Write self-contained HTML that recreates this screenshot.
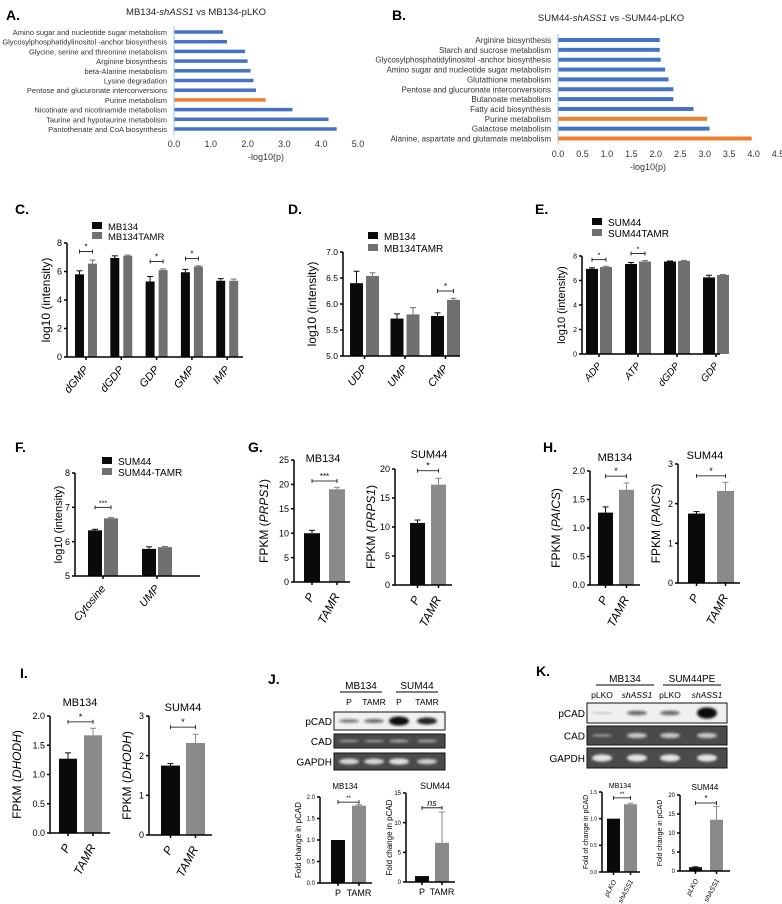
<!DOCTYPE html>
<html><head><meta charset="utf-8"><style>
html,body{margin:0;padding:0;background:#fff;}
svg{display:block;font-family:"Liberation Sans",Arial,sans-serif;}
</style></head><body>
<svg id="fig" width="782" height="904" viewBox="0 0 782 904" xmlns="http://www.w3.org/2000/svg">
<defs><filter id="bl" x="-20%" y="-50%" width="140%" height="200%"><feGaussianBlur stdDeviation="1.2"/></filter></defs>
</svg>
<script>
// ---- Panel A data
const aCats = ["Amino sugar and nucleotide sugar metabolism","Glycosylphosphatidylinositol -anchor biosynthesis","Glycine, serine and threonine metabolism","Arginine biosynthesis","beta-Alanine metabolism","Lysine degradation","Pentose and glucuronate interconversions","Purine metabolism","Nicotinate and nicotinamide metabolism","Taurine and hypotaurine metabolism","Pantothenate and CoA biosynthesis"];
const aVals = [1.33,1.44,1.93,2.0,2.08,2.16,2.23,2.49,3.22,4.2,4.42];
const aHighlight = ["Purine metabolism"];
const aTicks = ["0.0","1.0","2.0","3.0","4.0","5.0"];
// ---- Panel B data
const bCats = ["Arginine biosynthesis","Starch and sucrose metabolism","Glycosylphosphatidylinositol -anchor biosynthesis","Amino sugar and nucleotide sugar metabolism","Glutathione metabolism","Pentose and glucuronate interconversions","Butanoate metabolism","Fatty acid biosynthesis","Purine metabolism","Galactose metabolism","Alanine, aspartate and glutamate metabolism"];
const bVals = [2.08,2.08,2.1,2.19,2.26,2.36,2.36,2.77,3.05,3.1,3.96];
const bHighlight = ["Purine metabolism","Alanine, aspartate and glutamate metabolism"];
const bTicks = ["0.0","0.5","1.0","1.5","2.0","2.5","3.0","3.5","4.0","4.5"];
// ---- Panel C
const cCats = ["dGMP","dGDP","GDP","GMP","IMP"];
const cMB = [5.8,6.95,5.3,5.95,5.35];
const cMBErr = [0.25,0.15,0.35,0.2,0.15];
const cTAMR = [6.55,7.1,6.1,6.35,5.35];
const cTAMRErr = [0.25,0.05,0.08,0.05,0.12];
const cTicks = [0,2,4,6,8];
const cSig = [[0,7.4,"*"],[2,6.7,"*"],[3,6.9,"*"]];
// ---- Panel D
const dCats = ["UDP","UMP","CMP"];
const dMB = [6.4,5.72,5.77];
const dMBErr = [0.23,0.09,0.06];
const dTAMR = [6.54,5.8,6.08];
const dTAMRErr = [0.06,0.13,0.03];
const dTicks = [5.0,5.5,6.0,6.5,7.0];
const dSig = [[2,6.25,"*"]];
// ---- Panel E
const eCats = ["ADP","ATP","dGDP","GDP"];
const eS = [6.95,7.35,7.55,6.25];
const eSErr = [0.08,0.12,0.04,0.18];
const eT = [7.1,7.55,7.6,6.45];
const eTErr = [0.06,0.08,0.04,0.03];
const eTicks = [0,2,4,6,8];
const eSig = [[0,7.7,"*"],[1,8.2,"*"]];
// ---- Panel F
const fCats = ["Cytosine","UMP"];
const fS = [6.33,5.79];
const fSErr = [0.03,0.06];
const fT = [6.68,5.84];
const fTErr = [0.02,0.02];
const fTicks = [5,6,7,8];
const fSig = [[0,7.0,"***"]];
// ---- Two-bar panels (P vs TAMR etc.)
const ptCats = ["P","TAMR"];
const shCats = ["pLKO","shASS1"];
const g1Vals = [10,19]; const g1Errs = [0.6,0.4]; const g1Ticks = [0,5,10,15,20,25];
const g2Vals = [10.7,17.3]; const g2Errs = [0.5,1.1]; const g2Ticks = [0,5,10,15,20];
const h1Vals = [1.27,1.67]; const h1Errs = [0.1,0.12]; const h1Ticks = ["0.0","0.5","1.0","1.5","2.0"];
const h2Vals = [1.75,2.32]; const h2Errs = [0.05,0.22]; const h2Ticks = [0,1,2,3];
const i1Vals = [1.27,1.67]; const i1Errs = [0.1,0.12]; const i1Ticks = ["0.0","0.5","1.0","1.5","2.0"];
const i2Vals = [1.75,2.32]; const i2Errs = [0.05,0.22]; const i2Ticks = [0,1,2,3];
const j1Vals = [1.0,1.8]; const j1Errs = [0,0.02]; const j1Ticks = ["0.0","0.5","1.0","1.5","2.0"];
const j2Vals = [1.0,6.6]; const j2Errs = [0,5.2]; const j2Ticks = [0,5,10,15];
const k1Vals = [1.0,1.27]; const k1Errs = [0,0.02]; const k1Ticks = ["0.0","0.5","1.0","1.5"];
const k2Vals = [1.0,13.5]; const k2Errs = [0.1,3.5]; const k2Ticks = [0,5,10,15,20];

const svg = document.getElementById('fig');
const NS = 'http://www.w3.org/2000/svg';
function mk(tag, attrs, name, parent) {
  const e = document.createElementNS(NS, tag);
  for (const k in attrs) e.setAttribute(k, attrs[k]);
  
  
  (parent || svg).appendChild(e);
  return e;
}
function txt(x, y, s, size, name, extra, parent) {
  const a = Object.assign({x: x, y: y, 'font-size': size, fill: '#000'}, extra || {});
  const t = mk('text', a, name, parent);
  t.textContent = s;
  return t;
}
function line(x1, y1, x2, y2, w, name, col) {
  return mk('line', {x1: x1, y1: y1, x2: x2, y2: y2, stroke: col || '#000', 'stroke-width': w}, name);
}

// ---- horizontal bar chart (A, B)
function hbar(o) {
  const xs = v => o.x0 + v * o.ppu;
  const g = mk('g', {}, o.name);
  txt(o.titleX, o.titleY, '', 9.5, 'chart-title', {'text-anchor': 'middle', fill: '#222'}, g).innerHTML = o.title;
  line(o.x0, o.rowY0 - 6, o.x0, o.rowY0 + (o.cats.length - 1) * o.rowH + 6, 1, 'y-axis-line', '#9dc3e6');
  o.cats.forEach((c, i) => {
    const y = o.rowY0 + i * o.rowH;
    txt(o.x0 - 7, y + 3, c, o.lfs, 'category-label', {'text-anchor': 'end', fill: '#333'}, g);
    const col = o.hl.indexOf(c) >= 0 ? '#ed7d31' : '#4472c4';
    mk('rect', {x: o.x0, y: y - o.bh / 2, width: xs(o.vals[i]) - o.x0, height: o.bh, fill: col}, 'bar-' + i, g);
  });
  o.ticks.forEach(t => {
    txt(xs(parseFloat(t)), o.tickY, t, 9, 'x-tick-label', {'text-anchor': 'middle', fill: '#333'}, g);
  });
  txt(o.x0 + (o.ticks.length - 1) * o.step * o.ppu / 2 + o.xlabOff, o.tickY + 13, '-log10(p)', 9, 'x-axis-title', {'text-anchor': 'middle', fill: '#333'}, g);
}
hbar({name: 'panel-a-chart', x0: 174, ppu: 36.8, step: 1, cats: aCats, vals: aVals, hl: aHighlight, ticks: aTicks, rowY0: 32, rowH: 9.7, bh: 3.5, tickY: 147, title: 'MB134-<tspan font-style="italic">shASS1</tspan> vs MB134-pLKO', titleX: 196, titleY: 15, xlabOff: 0, lfs: 7.5});
hbar({name: 'panel-b-chart', x0: 558, ppu: 48.9, step: 0.5, cats: bCats, vals: bVals, hl: bHighlight, ticks: bTicks, rowY0: 40, rowH: 9.85, bh: 4, tickY: 157, title: 'SUM44-<tspan font-style="italic">shASS1</tspan> vs -SUM44-pLKO', titleX: 611, titleY: 21, xlabOff: -20, lfs: 8});

// ---- vertical bar chart
function vbar(o) {
  const g = mk('g', {}, o.name);
  const y = v => o.yBot - (v - o.ymin) / (o.ymax - o.ymin) * (o.yBot - o.yTop);
  const lw = o.lw || 1.5;
  line(o.axisX, o.yTop, o.axisX, o.yBot, lw, 'y-axis-line');
  line(o.axisX, o.yBot, o.xEnd, o.yBot, lw, 'x-axis-line');
  o.ticks.forEach(t => {
    const v = parseFloat(t);
    line(o.axisX - 3, y(v), o.axisX, y(v), lw, 'y-tick');
    txt(o.axisX - 5, y(v) + o.tfs * 0.35, String(t), o.tfs, 'y-tick-label', {'text-anchor': 'end'}, g);
  });
  const yl = txt(0, 0, '', o.yfs, 'y-axis-title', {'text-anchor': 'middle', transform: 'translate(' + o.ylX + ',' + (o.yTop + o.yBot) / 2 + ') rotate(-90)'}, g);
  yl.innerHTML = o.ylabel;
  const centers = [];
  const rot = (o.rot === undefined) ? -50 : o.rot;
  o.cats.forEach((c, i) => {
    const cs = [];
    o.series.forEach((s, k) => {
      const x = o.start + i * o.pitch + k * o.off;
      const col = o.catColors ? o.catColors[i] : s.color;
      const v = s.vals[i], e = s.errs[i];
      mk('rect', {x: x, y: y(v), width: o.bw, height: o.yBot - y(v), fill: col}, 'bar-' + c + '-' + k, g);
      if (e > 0) {
        line(x + o.bw / 2, y(v), x + o.bw / 2, y(v + e), 1, 'error-bar', col);
        line(x + o.bw / 2 - 3, y(v + e), x + o.bw / 2 + 3, y(v + e), 1, 'error-cap', col);
      }
      cs.push(x + o.bw / 2);
    });
    centers.push(cs);
    const gc = (cs[0] + cs[cs.length - 1]) / 2;
    line(gc, o.yBot, gc, o.yBot + 3, lw, 'x-tick');
    if (rot === 0) {
      txt(gc, o.yBot + o.xfs + 4, c, o.xfs, 'x-tick-label', {'text-anchor': 'middle'}, g);
    } else {
      txt(0, 0, c, o.xfs, 'x-tick-label', {'text-anchor': 'end', 'font-style': 'italic', transform: 'translate(' + (gc + 3) + ',' + (o.yBot + o.xfs * 0.9 + 3) + ') rotate(' + rot + ')'}, g);
    }
  });
  (o.sig || []).forEach(sg => {
    let x1, x2;
    if (o.series.length > 1) { x1 = centers[sg[0]][0]; x2 = centers[sg[0]][o.series.length - 1]; }
    else { x1 = centers[0][0]; x2 = centers[1][0]; }
    const yy = y(sg[1]);
    line(x1, yy, x2, yy, 0.8, 'sig-bracket');
    line(x1, yy - 2, x1, yy + 2, 0.8, 'sig-bracket-end');
    line(x2, yy - 2, x2, yy + 2, 0.8, 'sig-bracket-end');
    txt((x1 + x2) / 2, yy - 2, sg[2], o.sigfs || 8, 'sig-label', {'text-anchor': 'middle', 'font-style': sg[2] === 'ns' ? 'italic' : 'normal'}, g);
  });
  if (o.title) txt(o.titleX, o.titleY, o.title, o.titfs, 'chart-title', {'text-anchor': 'middle'}, g);
  if (o.legend) o.legend.forEach((L, i) => {
    mk('rect', {x: o.legX, y: o.legY + i * o.legH - 8, width: 10, height: 7, fill: L[1]}, 'legend-swatch', g);
    txt(o.legX + 16, o.legY + i * o.legH, L[0], o.legfs, 'legend-entry', {}, g);
  });
}
const BLK = '#0a0a0a', GRY = '#707070', GR2 = '#8a8a8a';
const LOGY = 'log10 (intensity)';
vbar({name: 'panel-c-chart', cats: cCats, series: [{vals: cMB, errs: cMBErr, color: BLK}, {vals: cTAMR, errs: cTAMRErr, color: GRY}], ymin: 0, ymax: 8, ticks: cTicks, axisX: 67, yTop: 243, yBot: 357, xEnd: 243, start: 75, pitch: 35.3, off: 13, bw: 9, tfs: 9, yfs: 12, ylX: 50, ylabel: LOGY, xfs: 11, sig: cSig, legend: [['MB134', BLK], ['MB134TAMR', GRY]], legX: 92, legY: 230, legH: 10, legfs: 9.5});
vbar({name: 'panel-d-chart', cats: dCats, series: [{vals: dMB, errs: dMBErr, color: BLK}, {vals: dTAMR, errs: dTAMRErr, color: GRY}], ymin: 5, ymax: 7, ticks: ['5.0','5.5','6.0','6.5','7.0'], axisX: 343, yTop: 252, yBot: 356, xEnd: 460, start: 350, pitch: 40.5, off: 16, bw: 13, tfs: 8.5, yfs: 12, ylX: 316, ylabel: LOGY, xfs: 11, sig: dSig, legend: [['MB134', BLK], ['MB134TAMR', GRY]], legX: 368, legY: 240, legH: 12, legfs: 10});
vbar({name: 'panel-e-chart', cats: eCats, series: [{vals: eS, errs: eSErr, color: BLK}, {vals: eT, errs: eTErr, color: GRY}], ymin: 0, ymax: 8, ticks: eTicks, axisX: 582, yTop: 256, yBot: 354, xEnd: 720, start: 586, pitch: 39, off: 14, bw: 12, tfs: 7, yfs: 11, ylX: 565, ylabel: LOGY, xfs: 10, sig: eSig, sigfs: 7, legend: [['SUM44', BLK], ['SUM44TAMR', GRY]], legX: 592, legY: 226, legH: 11, legfs: 10});
vbar({name: 'panel-f-chart', cats: fCats, series: [{vals: fS, errs: fSErr, color: BLK}, {vals: fT, errs: fTErr, color: GRY}], ymin: 5, ymax: 8, ticks: fTicks, axisX: 75, yTop: 473, yBot: 576, xEnd: 200, start: 88, pitch: 54, off: 16, bw: 14, tfs: 9, yfs: 11, ylX: 62, ylabel: LOGY, xfs: 11, sig: fSig, sigfs: 7, legend: [['SUM44', BLK], ['SUM44-TAMR', GRY]], legX: 102, legY: 465, legH: 11, legfs: 10});
const PC = [BLK, GR2];
function two(name, vals, errs, ticks, cats, ax, yTop, yBot, ymax, start, pitch, bw, xEnd, ylabel, ylX, yfs, tfs, xfs, sig, title, tX, tY, titfs, sigfs, rot) {
  vbar({name: name, cats: cats, series: [{vals: vals, errs: errs, color: BLK}], catColors: PC, ymin: 0, ymax: ymax, ticks: ticks, axisX: ax, yTop: yTop, yBot: yBot, xEnd: xEnd, start: start, pitch: pitch, off: 0, bw: bw, tfs: tfs, yfs: yfs, ylX: ylX, ylabel: ylabel, xfs: xfs, sig: [sig], sigfs: sigfs, title: title, titleX: tX, titleY: tY, titfs: titfs, rot: (rot === undefined ? -62 : rot)});
}
const fp = g => 'FPKM (<tspan font-style="italic">' + g + '</tspan>)';
two('panel-g-mb134', g1Vals, g1Errs, g1Ticks, ptCats, 294, 460, 582, 25, 304, 25, 16, 350, fp('PRPS1'), 268, 12, 9, 12, [0, 20.7, '***'], 'MB134', 323, 462, 11, 8);
two('panel-g-sum44', g2Vals, g2Errs, g2Ticks, ptCats, 395, 469, 585, 20, 410, 21, 15, 452, fp('PRPS1'), 375, 12, 9, 12, [0, 19.7, '*'], 'SUM44', 429, 458, 11, 9);
two('panel-h-mb134', h1Vals, h1Errs, h1Ticks, ptCats, 590, 471, 585, 2, 598, 21, 15, 640, fp('PAICS'), 560, 12, 9, 12, [0, 1.91, '*'], 'MB134', 615, 461, 11, 9);
two('panel-h-sum44', h2Vals, h2Errs, h2Ticks, ptCats, 678, 464, 583, 3, 688, 29, 17, 740, fp('PAICS'), 660, 12, 9, 12, [0, 2.7, '*'], 'SUM44', 705, 459, 11, 9);
two('panel-i-mb134', i1Vals, i1Errs, i1Ticks, ptCats, 50, 716, 833, 2, 59, 25, 18, 110, fp('DHODH'), 21, 12, 9, 12, [0, 1.9, '*'], 'MB134', 80, 706, 11, 9);
two('panel-i-sum44', i2Vals, i2Errs, i2Ticks, ptCats, 149, 716, 835, 3, 161, 25, 19, 212, fp('DHODH'), 131, 12, 9, 12, [0, 2.72, '*'], 'SUM44', 183, 711, 11, 9);
two('panel-j-mb134', j1Vals, j1Errs, j1Ticks, ptCats, 320, 797, 883, 2, 331, 21, 14, 372, 'Fold change in pCAD', 301, 8, 6, 9, [0, 1.88, '**'], 'MB134', 345, 789, 8, 6, 0);
two('panel-j-sum44', j2Vals, j2Errs, j2Ticks, ptCats, 406, 793, 882, 15, 415, 20, 14, 455, 'Fold change in pCAD', 392, 8, 6, 9, [0, 12.5, 'ns'], 'SUM44', 435, 789, 9, 9, 0);
two('panel-k-mb134', k1Vals, k1Errs, k1Ticks, shCats, 602, 792, 872, 1.5, 607, 17, 13, 640, 'Fold of change in pCAD', 588, 7, 5, 7, [0, 1.39, '**'], 'MB134', 620, 788, 7, 6, -62);
two('panel-k-sum44', k2Vals, k2Errs, k2Ticks, shCats, 680, 795, 871, 20, 689, 21, 13, 730, 'Fold change in pCAD', 662, 7, 6, 7, [0, 17.9, '*'], 'SUM44', 705, 790, 8, 8, -62);

// ---- panel letters
[['A.', 6, 20], ['B.', 392, 20], ['C.', 15, 214], ['D.', 288, 214], ['E.', 535, 214], ['F.', 15, 452], ['G.', 248, 452], ['H.', 543, 452], ['I.', 20, 678], ['J.', 268, 684], ['K.', 536, 676]].forEach(L => {
  txt(L[1], L[2], L[0], 14, 'panel-label-' + L[0][0].toLowerCase(), {'font-weight': 'bold'});
});

// ---- western blots
function blot(o) {
  const g = mk('g', {}, o.name);
  o.groups.forEach(G => {
    txt(G[1], o.hY, G[0], 10, 'blot-group-label', {'text-anchor': 'middle'}, g);
    line(G[1] - G[2], o.hY + 3, G[1] + G[2], o.hY + 3, 1, 'blot-group-underline');
  });
  o.lanes.forEach(Ln => {
    txt(Ln[1], o.lY, Ln[0], 8.5, 'lane-label', {'text-anchor': 'middle', 'font-style': Ln[0] === 'shASS1' ? 'italic' : 'normal'}, g);
  });
  o.rows.forEach(R => {
    const dark = R[0] !== 'pCAD';
    mk('rect', {x: o.x0, y: R[1], width: o.x1 - o.x0, height: R[2] - R[1], fill: dark ? '#4a4a4a' : '#f0f0f0', stroke: '#111', 'stroke-width': 1}, 'blot-' + R[0].toLowerCase(), g);
    txt(o.x0 - 2, (R[1] + R[2]) / 2 + 4, R[0], 10, 'blot-row-label', {'text-anchor': 'end'}, g);
    R[3].forEach((b, i) => {
      if (b <= 0) return;
      mk('ellipse', {cx: o.lanes[i][1], cy: (R[1] + R[2]) / 2, rx: 10, ry: Math.max(0.8, b * (R[2] - R[1]) * 0.28), fill: dark ? '#fff' : '#111', opacity: Math.min(1, b + 0.2), filter: 'url(#bl)'}, 'blot-band', g);
    });
  });
}
blot({name: 'panel-j-blot', x0: 334, x1: 445, hY: 689, lY: 705, groups: [['MB134', 361, 21], ['SUM44', 417, 21]], lanes: [['P', 349], ['TAMR', 374], ['P', 399], ['TAMR', 427]], rows: [['pCAD', 712, 730, [0.35, 0.4, 0.9, 0.7]], ['CAD', 734, 748, [0.3, 0.3, 0.35, 0.35]], ['GAPDH', 753, 770, [0.6, 0.6, 0.65, 0.55]]]});
blot({name: 'panel-k-blot', x0: 587, x1: 727, hY: 682, lY: 698, groups: [['MB134', 625, 29], ['SUM44PE', 692, 29]], lanes: [['pLKO', 602], ['shASS1', 637], ['pLKO', 670], ['shASS1', 707]], rows: [['pCAD', 703, 723, [0.05, 0.4, 0.4, 1.0]], ['CAD', 726, 745, [0.25, 0.5, 0.5, 0.5]], ['GAPDH', 748, 768, [0.65, 0.65, 0.65, 0.65]]]});
</script>
</body></html>
